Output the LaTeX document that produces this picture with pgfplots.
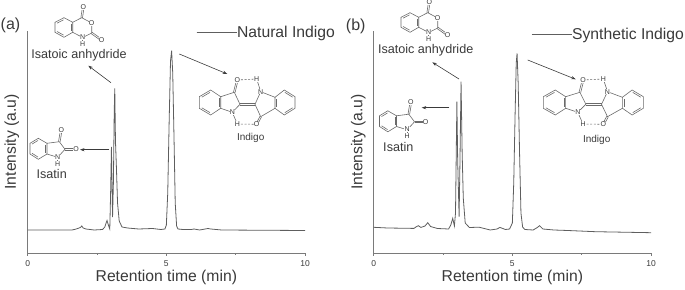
\documentclass[border=0pt]{standalone}
\usepackage{pgfplots}
\pgfplotsset{compat=1.18}
\usepackage{fontspec}
\setmainfont{Liberation Sans}
\usetikzlibrary{calc,arrows.meta}
\definecolor{tx}{HTML}{3A3A3A}
\definecolor{ln}{HTML}{5E5E5E}
\definecolor{ax}{HTML}{7A7A7A}
\definecolor{mol}{HTML}{6A6A6A}
\pgfplotstableread{
x y
0 23
1.6 23
1.75 24
1.9 25.5
1.95 27
2.0 25
2.1 24
2.4 23
2.7 23.5
2.78 26
2.86 32.5
2.92 27
2.96 24
2.99 60
3.02 106
3.04 70
3.06 36
3.09 70
3.12 140
3.14 164.7
3.165 112
3.2 85
3.24 50
3.3 32
3.4 26
3.6 25
4.0 24
4.5 24.5
4.8 23.5
4.95 24
5.0 28
5.05 60
5.1 130
5.15 192
5.19 202.3
5.23 180
5.28 110
5.32 50
5.37 27
5.42 24
5.6 23.5
5.9 23.5
6.0 24
6.2 23
6.5 24.5
6.6 24
7 23
10 22.5
}\tablea
\pgfplotstableread{
x y
0 25.7
0.5 25
1.45 24.6
1.55 26.5
1.61 27.3
1.7 25.6
1.85 27
1.95 30.3
2.05 26.5
2.3 24.5
2.7 24
2.78 28
2.85 34.7
2.91 27
2.95 40
3.0 151.3
3.03 90
3.08 36.3
3.11 90
3.15 171.3
3.19 100
3.23 55
3.3 30
3.45 25.5
3.8 25.8
4.2 23
4.45 24
4.55 25.6
4.75 23.5
4.9 24
5.0 30
5.05 70
5.1 140
5.14 190
5.17 199.7
5.21 170
5.26 100
5.31 40
5.37 26
5.45 23.5
5.75 23
5.9 25.5
5.98 27.3
6.1 24
6.5 23
7 22.5
8 21.3
10 20.3
}\tableb
\pgfplotsset{
  panel/.style={
    at={(#1)},anchor=south west,scale only axis,width=277.3pt,height=222.3pt,
    xmin=0,xmax=10,ymin=0,ymax=222.3,
    axis x line*=bottom,axis y line*=left,
    axis line style={ax,line width=0.9pt,-},
    xtick={0,5,10},minor xtick={2.5,7.5},ytick=\empty,
    tick align=outside,tick style={ax,line width=0.6pt},
    major tick length=3pt,minor tick length=2pt,
    ticklabel style={font=\fontsize{8.5}{10}\selectfont,text=tx},
    /pgf/number format/assume math mode=true,
    xticklabel style={yshift=-1.5pt},
    xlabel={Retention time (min)},ylabel={Intensity (a.u)},
    label style={font=\fontsize{15.7}{18}\selectfont,text=tx},
    xlabel style={at={(axis description cs:0.5,-0.111)},anchor=center},
    legend image code/.code={\draw[ln,line width=0.7pt](0pt,0pt)--(34pt,0pt);\path (0pt,0pt)--(40pt,0pt);},
    legend style={draw=none,fill=none,anchor=west,inner sep=0pt,outer sep=0pt,
      font=\fontsize{15.7}{18}\selectfont,text=tx,
      nodes={inner sep=0pt,outer sep=0pt}},
  }
}
\tikzset{atm/.style={font=\fontsize{7}{7}\selectfont,text=tx,fill=white,inner sep=0.2pt}}
% ring bond with inner line (ring traversed clockwise on the page)
\newcommand{\rb}[2]{\draw ($(#1)!.14!(#2)!1.7pt!-90:(#2)$)--($(#2)!.14!(#1)!1.7pt!90:(#1)$);}
% double bond
\newcommand{\db}[2]{\draw ($(#1)!.8pt!90:(#2)$)--($(#2)!.8pt!-90:(#1)$);\draw ($(#1)!.8pt!-90:(#2)$)--($(#2)!.8pt!90:(#1)$);}
\newcommand{\anhydride}[2]{\begin{scope}[shift={(#1,#2)},mol,line width=.6pt]
 \draw (19,17.7)--(27.7,22.3)--(27.7,32.3)--(19,37.3)--(10,32.3)--(10,22.3)--cycle;
 \rb{10,22.3}{19,17.7}\rb{27.7,22.3}{27.7,32.3}\rb{19,37.3}{10,32.3}
 \draw (27.7,22.3)--(36.7,17.7)--(46.7,23)--(46.7,33)--(37.7,37.5)--(27.7,32.3);
 \db{36.7,17.7}{38.3,7}\db{46.7,33}{56.5,40}\draw(37.7,37.5)--(37.7,43.5);
 \node[atm] at (38.3,7){O};\node[atm] at (46.7,23){O};\node[atm] at (56.5,40){O};
 \node[atm] at (37.7,37.2){N};\node[atm] at (37.7,43.8){H};
\end{scope}}
\newcommand{\isatin}[2]{\begin{scope}[shift={(#1,#2)},mol,line width=.6pt]
 \draw (18.3,18.3)--(27,23.3)--(27,34)--(18.3,39.3)--(10,34)--(10,23.3)--cycle;
 \rb{10,23.3}{18.3,18.3}\rb{27,23.3}{27,34}\rb{18.3,39.3}{10,34}
 \draw (27,23.3)--(39.3,21.7)--(45,29.3)--(37.7,37.3)--(27,34);
 \db{39.3,21.7}{41.3,10}\db{45,29.3}{56,29.3}\draw(37.7,37.3)--(37.7,43.3);
 \node[atm] at (41.3,10){O};\node[atm] at (56,29.3){O};
 \node[atm] at (37.7,37){N};\node[atm] at (37.7,43.6){H};
\end{scope}}
\newcommand{\indigo}[3]{\begin{scope}[shift={(#1,#2)},xscale=#3,mol,line width=.6pt]
 \draw (20.7,25)--(30.7,31.7)--(30.7,43.3)--(20.7,50)--(9.3,43.3)--(9.3,31.7)--cycle;
 \rb{9.3,31.7}{20.7,25}\rb{30.7,31.7}{30.7,43.3}\rb{20.7,50}{9.3,43.3}
 \draw (94.3,25)--(105,31.7)--(105,43.3)--(94.3,50)--(85,43.3)--(85,32.3)--cycle;
 \rb{94.3,25}{105,31.7}\rb{105,43.3}{94.3,50}\rb{85,43.3}{85,32.3}
 \draw (30.7,31.7)--(44.3,27.3)--(50,39.3)--(42.3,47.3)--(30.7,43.3);
 \draw (85,32.3)--(70.7,26.7)--(65,39.3)--(70.7,51.7)--(85,43.3);
 \db{50,39.3}{65,39.3}\db{44.3,27.3}{47.3,15}\db{70.7,51.7}{66.7,59.3}
 \draw (42.3,47.3)--(47.3,59);\draw (70.7,26.7)--(66.7,14);
 \draw[dash pattern=on 2pt off 1.6pt] (47.3,15)--(66.7,14);
 \draw[dash pattern=on 2pt off 1.6pt] (47.3,59)--(66.7,59.3);
 \node[atm] at (47.3,15){O};\node[atm] at (66.7,14){H};\node[atm] at (70.7,26.7){N};
 \node[atm] at (42.3,47.3){N};\node[atm] at (47.3,59){H};\node[atm] at (66.7,59.3){O};
\end{scope}}
\begin{document}
\begin{tikzpicture}
\path[use as bounding box] (0pt,0pt) rectangle (685pt,289pt);
\begin{axis}[panel={27.7pt,36pt},
  ylabel style={at={(axis description cs:-0.0577,0.5)},anchor=center},
  legend style={at={(axis cs:6.08,220.7)}}]
\addplot[ln,line width=0.8pt] table[x=x,y=y]{\tablea};
\addlegendentry{Natural Indigo}
\end{axis}
\begin{axis}[panel={373.7pt,36pt},
  ylabel style={at={(axis description cs:-0.0555,0.5)},anchor=center},
  legend style={at={(axis cs:5.685,218.3)}}]
\addplot[ln,line width=0.8pt] table[x=x,y=y]{\tableb};
\addlegendentry{Synthetic Indigo}
\end{axis}
\begin{scope}[x=1pt,y=-1pt,yshift=289pt]
 \node[font=\fontsize{16}{18}\selectfont,text=tx] at (10.5,25){(a)};
 \node[font=\fontsize{16}{18}\selectfont,text=tx] at (355.7,26){(b)};
 \node[font=\fontsize{12.6}{14}\selectfont,text=tx,inner sep=0pt] at (79,55.7){Isatoic anhydride};
 \node[font=\fontsize{12.6}{14}\selectfont,text=tx,inner sep=0pt] at (425.7,50.7){Isatoic anhydride};
 \node[font=\fontsize{12.6}{14}\selectfont,text=tx,inner sep=0pt] at (51.7,174){Isatin};
 \node[font=\fontsize{12.6}{14}\selectfont,text=tx,inner sep=0pt] at (398.3,146.7){Isatin};
 \node[font=\fontsize{10}{12}\selectfont,text=tx,inner sep=0pt] at (250.7,137.7){Indigo};
 \node[font=\fontsize{10}{12}\selectfont,text=tx,inner sep=0pt] at (596.7,139.7){Indigo};
 \anhydride{45}{0}\anhydride{391}{-5}
 \isatin{20}{120}\isatin{369.5}{92.5}
 \indigo{190}{65}{1}\indigo{533.6}{65}{1.045}
 \begin{scope}[tx,line width=.6pt,-{Stealth[length=4.5pt,width=3.2pt]}]
  \draw (111,82.7)--(88.3,65.7);\draw (179.3,54)--(227.3,74);\draw (109.3,149.7)--(80,149.7);
  \draw (459,79)--(432.3,62.3);\draw (527.7,60)--(575.7,79.3);\draw (449.3,107.7)--(421.7,107.7);
 \end{scope}
\end{scope}
\end{tikzpicture}
\end{document}
